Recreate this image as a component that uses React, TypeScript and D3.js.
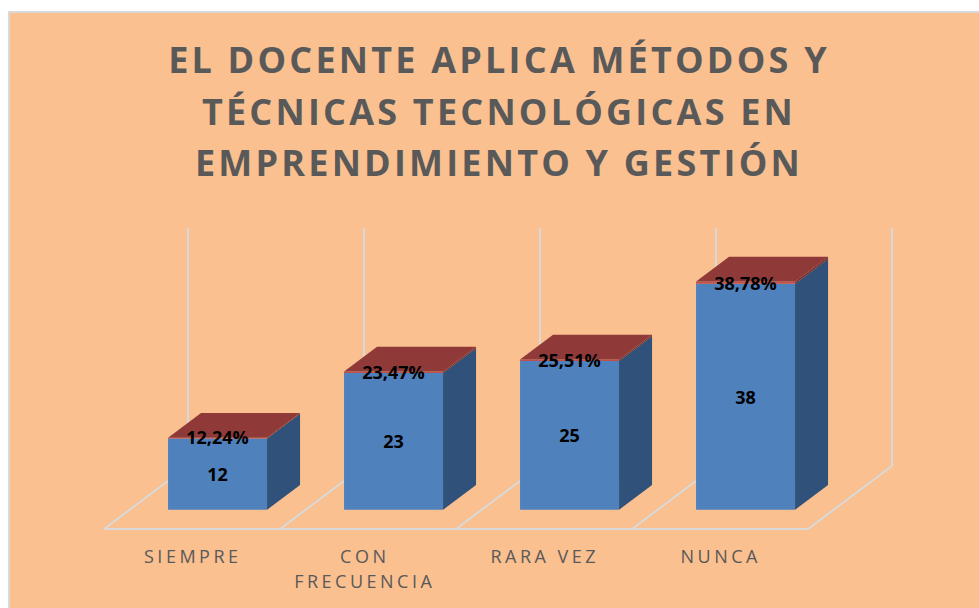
import React from "react";
import * as d3 from "d3";

const categories = ["SIEMPRE", "CON FRECUENCIA", "RARA VEZ", "NUNCA"];
const categoryLabelLines = [["SIEMPRE"], ["CON", "FRECUENCIA"], ["RARA VEZ"], ["NUNCA"]];
const counts = [12, 23, 25, 38];
const percentages = [12.24, 23.47, 25.51, 38.78];
const percentLabels = ["12,24%", "23,47%", "25,51%", "38,78%"];
const titleLines = [
  "EL DOCENTE APLICA MÉTODOS Y",
  "TÉCNICAS TECNOLÓGICAS EN",
  "EMPRENDIMIENTO Y GESTIÓN",
];
const valueDomain = [0, 40];

const FONT = "'Open Sans', 'Noto Sans', sans-serif";

export default function App() {
  const W = 979;
  const H = 608;
  const floorFrontY = 529;
  const depthDX = 84;
  const depthDY = -63;
  const x = d3.scaleBand<string>().domain(categories).range([104, 808]).padding(0);
  const y = d3.scaleLinear().domain(valueDomain).range([0, 238]);
  const bw = x.bandwidth();
  const barFrac = 0.5625;
  const d0 = 0.304;
  const d1 = 0.697;

  const proj = (xf: number, v: number, d: number): [number, number] => [
    xf + d * depthDX,
    floorFrontY + d * depthDY - y(v),
  ];
  const poly = (pts: [number, number][]) => pts.map((p) => p.join(",")).join(" ");

  const gridColor = "#D9D9D9";
  const boundaries = d3.range(categories.length + 1).map((i) =>
    i < categories.length ? (x(categories[i]) as number) : (x(categories[i - 1]) as number) + bw
  );

  const segments = (x0: number, x1: number, v0: number, v1: number) => ({
    front: poly([proj(x0, v0, d0), proj(x1, v0, d0), proj(x1, v1, d0), proj(x0, v1, d0)]),
    side: poly([proj(x1, v0, d0), proj(x1, v0, d1), proj(x1, v1, d1), proj(x1, v1, d0)]),
    top: poly([proj(x0, v1, d0), proj(x1, v1, d0), proj(x1, v1, d1), proj(x0, v1, d1)]),
  });

  return (
    <svg
      width={W}
      height={H}
      style={{ position: "absolute", left: 0, top: 0, display: "block" }}
    >
      <rect x={0} y={0} width={W} height={H} fill="#ffffff" />
      <rect x={9} y={12} width={W + 10} height={H + 10} fill="#FAC090" stroke={gridColor} strokeWidth={2} />

      {/* title */}
      <g fill="#595959" fontFamily={FONT} fontWeight={700} fontSize={36} letterSpacing={3.2}>
        {titleLines.map((t, i) => (
          <text key={i} x={499} y={73 + i * 51.5} textAnchor="middle">
            {t}
          </text>
        ))}
      </g>

      {/* floor and wall gridlines */}
      <g stroke={gridColor} strokeWidth={2} fill="none">
        <line x1={boundaries[0]} y1={floorFrontY} x2={boundaries[boundaries.length - 1]} y2={floorFrontY} />
        {boundaries.map((b, i) => {
          const [bx, by] = proj(b, 0, 1);
          const [tx, ty] = proj(b, valueDomain[1], 1);
          return (
            <g key={i}>
              <line x1={b} y1={floorFrontY} x2={bx} y2={by} />
              <line x1={bx} y1={by} x2={tx} y2={ty} />
            </g>
          );
        })}
      </g>

      {/* bars */}
      {categories.map((c, i) => {
        const x0 = (x(c) as number) + (bw * (1 - barFrac)) / 2;
        const x1 = x0 + bw * barFrac;
        const blue = segments(x0, x1, 0, counts[i]);
        const red = segments(x0, x1, counts[i], counts[i] + percentages[i] / 100);
        return (
          <g key={c}>
            <polygon points={blue.front} fill="#4F81BD" />
            <polygon points={blue.side} fill="#30517A" />
            <polygon points={red.front} fill="#C0504D" />
            <polygon points={red.side} fill="#7A302E" />
            <polygon points={red.top} fill="#8F3A39" />
          </g>
        );
      })}

      {/* data labels */}
      <g fontFamily={FONT} fontWeight={700} fontSize={18} fill="#000000" textAnchor="middle">
        {categories.map((c, i) => {
          const cx = (x(c) as number) + bw / 2 + d0 * depthDX;
          const base = floorFrontY + d0 * depthDY;
          const topY = base - y(counts[i]);
          const midY = base - y(counts[i] / 2);
          return (
            <g key={c}>
              <text x={cx} y={topY + 6}>{percentLabels[i]}</text>
              <text x={cx} y={midY + 7}>{counts[i]}</text>
            </g>
          );
        })}
      </g>

      {/* category labels */}
      <g fontFamily={FONT} fontSize={18} fill="#595959" textAnchor="middle" letterSpacing={3.5}>
        {categories.map((c, i) => {
          const cx = (x(c) as number) + bw / 2 + 0.75 - (i === 1 ? 4 : 0);
          return categoryLabelLines[i].map((line, j) => (
            <text key={c + j} x={cx} y={563 + j * 25}>
              {line}
            </text>
          ));
        })}
      </g>
    </svg>
  );
}
